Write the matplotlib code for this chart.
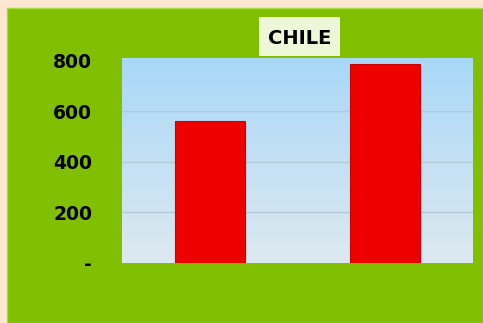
import numpy as np
import matplotlib.pyplot as plt
from matplotlib.patches import Rectangle
from matplotlib.colors import LinearSegmentedColormap

# data
categories = ['A', 'B']
values = [560, 785]
yticks = [0, 200, 400, 600, 800]
yticklabels = ['-', '200', '400', '600', '800']

fig = plt.figure(figsize=(4.83, 3.23), dpi=100)
fig.patch.set_facecolor('#fde6d2')

# green panel
W, H = 483, 323
fig.patches.append(Rectangle((7 / W, 0), 1 - 7 / W, 1 - 8 / H, transform=fig.transFigure,
                             facecolor='#80c000', edgecolor='#a8dc40', linewidth=1.0, zorder=0))
# title box
fig.patches.append(Rectangle((259 / W, 1 - 56 / H), 81 / W, 39 / H, transform=fig.transFigure,
                             facecolor='#eef8d8', edgecolor='none', zorder=1))

ax = fig.add_axes([122 / W, 1 - 263 / H, 351 / W, 205 / H])
ax.set_zorder(2)

x = np.arange(len(categories))
ax.set_xlim(-0.5, 1.5)
ax.set_ylim(0, 810)

# gradient background of plot area
grad = LinearSegmentedColormap.from_list('sky', ['#dde9f0', '#a9d8f8'])
ax.imshow(np.linspace(0, 1, 100).reshape(-1, 1), cmap=grad, aspect='auto',
          extent=[-0.5, 1.5, 0, 810], origin='lower', zorder=0)

for yv in yticks[1:-1]:
    ax.axhline(yv, color='#b4c8d6', linewidth=1.0, zorder=1)

ax.bar(x, values, width=0.4, color='#ee0000', edgecolor='#cc0000', linewidth=0.8, zorder=3)

ax.set_xticks([])
ax.set_yticks(yticks)
ax.set_yticklabels(yticklabels, fontsize=13.5, fontweight='heavy', color='black')
ax.tick_params(axis='y', length=0, pad=21.5)
for s in ax.spines.values():
    s.set_visible(False)

fig.text(300 / W, 1 - 39 / H, 'CHILE', ha='center', va='center', fontsize=14,
         fontweight='bold', color='black', zorder=3)

fig.savefig('out.png', dpi=100, facecolor=fig.get_facecolor())
